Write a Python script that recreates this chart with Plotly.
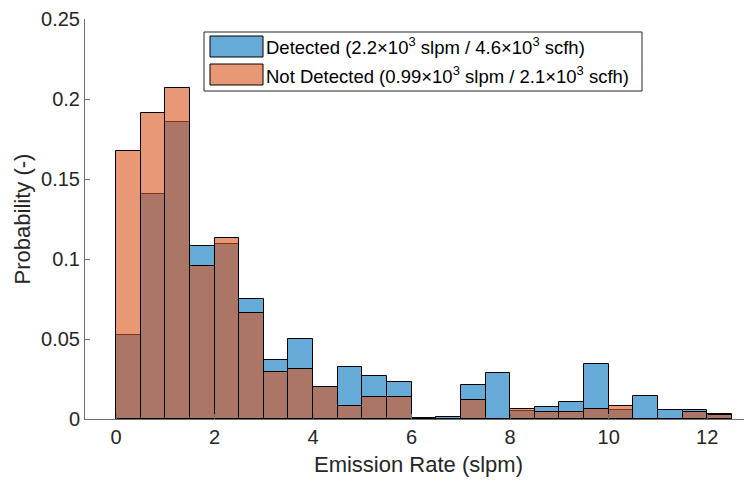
import numpy as np
import plotly.graph_objects as go

# ---- data ----
bin_edges = np.arange(0, 12.5 + 0.25, 0.5)  # 0, 0.5, ..., 12.5
detected = [0.0525, 0.1404, 0.1858, 0.1080, 0.1094, 0.0752, 0.0369, 0.0498,
            0.0198, 0.0327, 0.0271, 0.0229, 0.0005, 0.0015, 0.0215, 0.0285,
            0.0048, 0.0073, 0.0104, 0.0342, 0.0056, 0.0146, 0.0058, 0.0058,
            0.0031]
not_detected = [0.1675, 0.1910, 0.2067, 0.0954, 0.1131, 0.0665, 0.0292, 0.0312,
                0.0200, 0.0079, 0.0138, 0.0138, 0.0, 0.0, 0.0119, 0.0,
                0.0060, 0.0042, 0.0042, 0.0060, 0.0080, 0.0, 0.0, 0.0044,
                0.0026]
legend_labels = ["Detected (2.2×10<sup>3</sup> slpm / 4.6×10<sup>3</sup> scfh)",
                 "Not Detected (0.99×10<sup>3</sup> slpm / 2.1×10<sup>3</sup> scfh)"]
x_ticks = [0, 2, 4, 6, 8, 10, 12]
y_ticks = [0, 0.05, 0.1, 0.15, 0.2, 0.25]
y_ticktext = ["0", "0.05", "0.1", "0.15", "0.2", "0.25"]

centers = (bin_edges[:-1] + bin_edges[1:]) / 2
widths = np.diff(bin_edges)

BLUE = "rgba(0,114,189,0.6)"
ORANGE = "rgba(217,83,25,0.6)"
FONT = "Liberation Sans, Arial, Helvetica, sans-serif"
TXT = "rgb(38,38,38)"
AX = "rgb(110,110,110)"

fig = go.Figure()
fig.add_trace(go.Bar(x=centers, y=detected, width=widths, name=legend_labels[0],
                     marker=dict(color=BLUE, line=dict(color="black", width=1)),
                     showlegend=False))
fig.add_trace(go.Bar(x=centers, y=not_detected, width=widths, name=legend_labels[1],
                     marker=dict(color=ORANGE, line=dict(color="black", width=1)),
                     showlegend=False))

# layout geometry (screen pixels; page body adds an 8px offset)
W, H = 752, 484
OFF = 8
L, R, T, B = 85, 752, 19, 419


def px(x):
    return (x - L) / (R - L)


def py(y):
    return (B - y) / (B - T)


# custom MATLAB-like legend
shapes = [
    dict(type="rect", xref="paper", yref="paper", x0=px(204), x1=px(642),
         y0=py(91), y1=py(32), line=dict(color="rgb(38,38,38)", width=1),
         fillcolor="white", layer="above"),
    dict(type="rect", xref="paper", yref="paper", x0=px(210), x1=px(263),
         y0=py(57), y1=py(36), line=dict(color="black", width=1),
         fillcolor=BLUE, layer="above"),
    dict(type="rect", xref="paper", yref="paper", x0=px(210), x1=px(263),
         y0=py(85), y1=py(64), line=dict(color="black", width=1),
         fillcolor=ORANGE, layer="above"),
]
annotations = [
    dict(xref="paper", yref="paper", x=px(264), y=py(46.5), xanchor="left",
         yanchor="middle", text=legend_labels[0], showarrow=False,
         font=dict(family=FONT, size=18.5, color="black")),
    dict(xref="paper", yref="paper", x=px(264), y=py(74.5), xanchor="left",
         yanchor="middle", text=legend_labels[1], showarrow=False,
         font=dict(family=FONT, size=18.5, color="black")),
]

fig.update_layout(
    width=W, height=H,
    margin=dict(l=L - OFF, r=W - R + OFF, t=T - OFF, b=H - B + OFF,
                autoexpand=False),
    paper_bgcolor="white", plot_bgcolor="white",
    barmode="overlay", bargap=0,
    font=dict(family=FONT, color=TXT, size=20),
    shapes=shapes, annotations=annotations,
    xaxis=dict(range=[-0.63, 12.91], tickvals=x_ticks, ticks="inside",
               ticklen=5, tickcolor=AX, showline=True, linecolor=AX,
               linewidth=1, showgrid=False, zeroline=False, automargin=False,
               tickfont=dict(size=20, color=TXT),
               title=dict(text="Emission Rate (slpm)", standoff=9,
                          font=dict(size=22, color=TXT))),
    yaxis=dict(range=[0, 0.25], tickvals=y_ticks, ticktext=y_ticktext,
               ticks="inside", ticklen=5, tickcolor=AX, showline=True,
               linecolor=AX, linewidth=1, showgrid=False, zeroline=False,
               automargin=False,
               tickfont=dict(size=20, color=TXT),
               title=dict(text="Probability (-)", standoff=4,
                          font=dict(size=22, color=TXT))),
)

fig.write_html("out.html")
